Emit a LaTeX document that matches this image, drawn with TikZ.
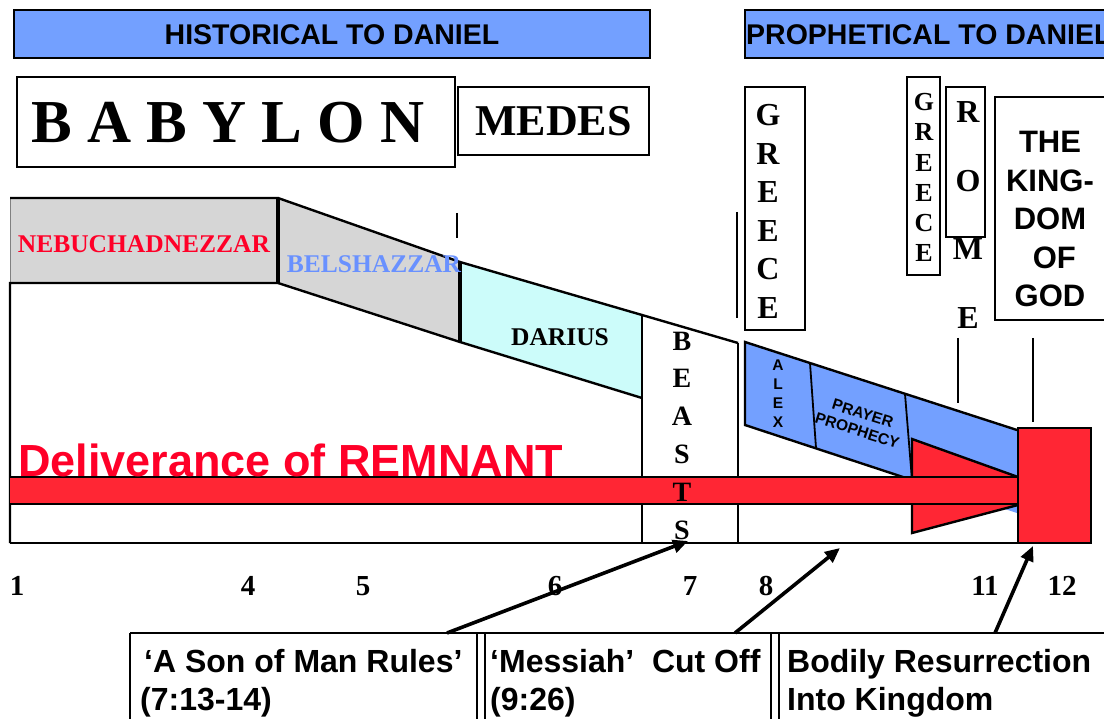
\documentclass[tikz,border=0pt]{standalone}
\usepackage{fontspec}
\setmainfont{Liberation Serif}
\setsansfont{Liberation Sans}
\usetikzlibrary{arrows.meta}

\definecolor{headblue}{RGB}{115,160,255}
\definecolor{kinggrey}{RGB}{214,214,214}
\definecolor{medecyan}{RGB}{204,252,250}
\definecolor{remred}{RGB}{255,38,52}
\definecolor{textred}{RGB}{255,0,40}
\definecolor{textblue}{RGB}{105,145,255}
\newcommand{\fsize}[2]{\fontsize{#1}{#2}\selectfont}

\begin{document}
\begin{tikzpicture}[x=1pt,y=-1pt,
  outline/.style={line width=2.4pt},
  rule/.style={line width=1.8pt},
  hdrtext/.style={inner sep=0pt, font=\sffamily\bfseries\fsize{28.5}{34}},
  stack/.style={inner sep=0pt, align=center},
  king/.style={inner sep=0pt, font=\bfseries\fsize{25.5}{30}},
  boxtext/.style={inner sep=0pt, anchor=base west, font=\sffamily\bfseries\fsize{32}{38}},
  numlab/.style={inner sep=0pt, anchor=base, font=\bfseries\fsize{29}{34}},
  pointer/.style={line width=3.6pt, -{Triangle[length=15pt,width=13pt]}}]
\useasboundingbox (0,0) rectangle (1104,719);

% headers
\draw[line width=1.5pt, fill=headblue] (14,10) rectangle (650,58);
\node[hdrtext] (hist) at (332,35) {HISTORICAL TO DANIEL};
\draw[line width=1.5pt, fill=headblue] (745,10) rectangle (1125,58);
\node[hdrtext, anchor=west] (proph) at (746,35) {PROPHETICAL TO DANIEL};

% kingdoms
\draw[rule] (17,77) rectangle (455,167);
\node[inner sep=0pt, font=\bfseries\fsize{61}{70}] (babylon) at (228,123) {B A B Y L O N};
\node[draw, rule, minimum width=191, minimum height=68, inner sep=0pt,
  font=\bfseries\fsize{44}{50}] (medes) at (553.5,121) {MEDES};
\draw[rule] (745,87) rectangle (805,330);
\node[stack, font=\bfseries\fsize{32}{38.6}] (greece) at (768,211.5) {G\\R\\E\\E\\C\\E};
\draw[rule] (907,77) rectangle (940,275);
\node[stack, font=\bfseries\fsize{26}{30.2}] (greecetwo) at (924,177.5) {G\\R\\E\\E\\C\\E};
\draw[rule] (946,87) rectangle (985,237);
\node[stack, font=\bfseries\fsize{32}{68.7}] (rome) at (968,215) {R\\O\\M\\E};
\draw[rule] (995,97) rectangle (1120,320);
\node[stack, font=\sffamily\bfseries\fsize{31}{38.5}] (godking) at (1050,219)
  {THE\\KING-\\DOM\\~OF\\GOD};

% ticks
\draw[rule] (457,213) -- (457,238);
\draw[rule] (737,212) -- (737,318);
\draw[rule] (958,338) -- (958,403);
\draw[rule] (1033,338) -- (1033,422);

% reigns
\fill[kinggrey] (10,198) rectangle (278,283);
\draw[line width=0.6pt, gray] (10,198) -- (10,283);
\fill[kinggrey] (278,198) -- (460,262) -- (460,342) -- (278,283) -- cycle;
\fill[medecyan] (460,262) -- (642,315) -- (642,398) -- (460,342) -- cycle;
\draw[outline] (10,198) -- (278,198) -- (460,262) -- (642,315) -- (738,343);
\draw[outline] (10,543) -- (10,283) -- (278,283) -- (460,342) -- (642,398);
\draw[line width=3.2pt] (278,198) -- (278,283);
\draw[line width=3.2pt] (460,262) -- (460,342);
\draw[line width=1.6pt] (642,315) -- (642,543);
\draw[line width=1.6pt] (738,343) -- (738,543);
\draw[outline] (10,543) -- (1018,543);

\node[king, text=textred] (nebu) at (144,244) {NEBUCHADNEZZAR};
\node[king, text=textblue] (belsh) at (374,264) {BELSHAZZAR};
\node[king] (darius) at (560,337) {DARIUS};

% greek band
\fill[headblue] (745,342) -- (1017,430) -- (1017,513) -- (745,425) -- cycle;
\draw[outline] (1017,430) -- (745,342) -- (745,425) -- (912,480);
\draw[rule] (810,363) -- (816,448);
\draw[rule] (905,394) -- (912,480);
\node[stack, font=\sffamily\bfseries\fsize{15.5}{19}] (alex) at (778,393.5) {A\\L\\E\\X};
\node[stack, rotate=-17.5, font=\sffamily\bfseries\fsize{15.5}{18}] (prayer) at (860,422)
  {PRAYER\\PROPHECY};

% remnant
\draw[outline, fill=remred] (1018,477) -- (912,439) -- (912,533) -- (1018,505);
\fill[remred] (10,477) rectangle (1018,504);
\draw[outline] (10,477) -- (1018,477);
\draw[outline] (10,504) -- (1018,504);
\draw[outline, fill=remred] (1018,428) rectangle (1091,543);
\node[inner sep=0pt, anchor=base west, text=textred,
  font=\sffamily\bfseries\fsize{45}{52}] (remnant) at (18,476) {Deliverance of REMNANT};
\node[stack, font=\bfseries\fsize{28}{37.8}] (beasts) at (682,435.5) {B\\E\\A\\S\\T\\S};

% chapters
\foreach \n/\x in {1/17, 4/248, 5/363, 6/555, 7/690, 8/766, 11/985, 12/1062}
  \node[numlab] (ch\n) at (\x,595) {\n};

% notes
\draw[rule] (130,633) -- (1120,633);
\foreach \x in {130, 477, 485, 771, 779}
  \draw[rule] (\x,633) -- (\x,725);
\node[boxtext] (sonman) at (144,672) {‘A Son of Man Rules’};
\node[boxtext] (sonref) at (140,710) {(7:13-14)};
\node[boxtext] (messiah) at (490,672) {‘Messiah’~~Cut Off};
\node[boxtext] (messref) at (490,710) {(9:26)};
\node[boxtext] (bodily) at (787,672) {Bodily Resurrection};
\node[boxtext] (into) at (787,710) {Into Kingdom};

\coordinate (sontop) at (447,633);
\coordinate (messtop) at (735,633);
\coordinate (bodytop) at (995,633);
\coordinate (beastfoot) at (688,541);
\coordinate (cutfoot) at (840,548);
\coordinate (godfoot) at (1033,546);
\draw[pointer] (sontop) -- (beastfoot);
\draw[pointer] (messtop) -- (cutfoot);
\draw[pointer] (bodytop) -- (godfoot);
\end{tikzpicture}
\end{document}
